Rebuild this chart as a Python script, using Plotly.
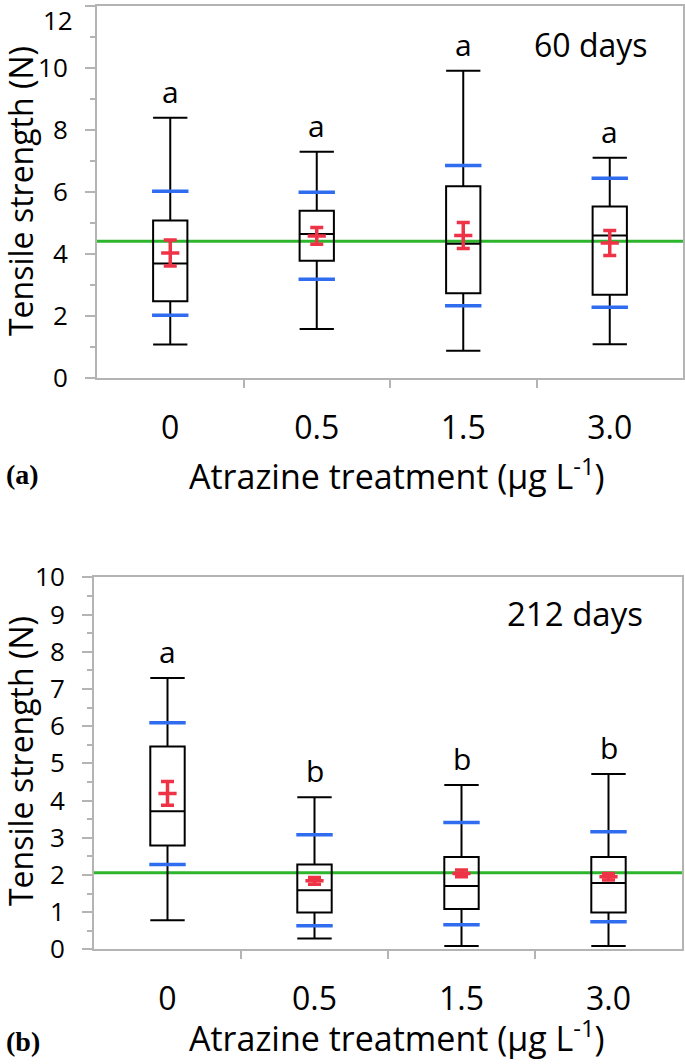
import plotly.graph_objects as go

# ---------------- data ----------------
treatments = ["0", "0.5", "1.5", "3.0"]
xpos = [0, 1, 2, 3]

# 60 days
d60_low = [1.09, 1.59, 0.89, 1.10]
d60_q1 = [2.48, 3.79, 2.74, 2.69]
d60_median = [3.70, 4.65, 4.34, 4.60]
d60_q3 = [5.09, 5.40, 6.19, 5.54]
d60_high = [8.40, 7.30, 9.91, 7.11]
d60_blue_low = [2.03, 3.19, 2.34, 2.29]
d60_blue_high = [6.03, 6.00, 6.86, 6.45]
d60_mean = [4.04, 4.59, 4.60, 4.36]
d60_err = [0.42, 0.27, 0.42, 0.40]
d60_letters = ["a", "a", "a", "a"]
d60_control = 4.42
d60_yticks = [0, 2, 4, 6, 8, 10, 12]

# 212 days
d212_low = [0.78, 0.29, 0.09, 0.09]
d212_q1 = [2.79, 0.99, 1.08, 0.99]
d212_median = [3.71, 1.59, 1.70, 1.78]
d212_q3 = [5.45, 2.28, 2.48, 2.48]
d212_high = [7.29, 4.09, 4.42, 4.71]
d212_blue_low = [2.28, 0.63, 0.66, 0.74]
d212_blue_high = [6.09, 3.08, 3.41, 3.16]
d212_mean = [4.19, 1.84, 2.04, 1.95]
d212_err = [0.32, 0.09, 0.09, 0.09]
d212_letters = ["a", "b", "b", "b"]
d212_control = 2.06

RED = "#ee3347"
BLUE = "#2f6cf0"
GREEN = "#2db52d"
GRAY = "#b4b4b4"
FONT = "Open Sans"

fig = go.Figure()


def add_panel(xa, ya, low, q1, med, q3, high, blo, bhi, mean, err):
    fig.add_trace(go.Box(
        x=xpos, q1=q1, median=med, q3=q3, lowerfence=low, upperfence=high,
        width=0.234, whiskerwidth=1, boxpoints=False,
        line=dict(color="black", width=2), fillcolor="rgba(0,0,0,0)",
        xaxis=xa, yaxis=ya, showlegend=False, hoverinfo="skip"))
    fig.add_trace(go.Scatter(
        x=xpos + xpos, y=blo + bhi, mode="markers",
        marker=dict(symbol="line-ew", size=26, line=dict(color=BLUE, width=3.5)),
        xaxis=xa, yaxis=ya, showlegend=False, hoverinfo="skip"))
    fig.add_trace(go.Scatter(
        x=xpos, y=mean, mode="markers",
        marker=dict(symbol="line-ew", size=13, line=dict(color=RED, width=3.5)),
        error_y=dict(type="data", array=err, visible=True, color=RED,
                     thickness=3.5, width=6.5),
        xaxis=xa, yaxis=ya, showlegend=False, hoverinfo="skip"))


add_panel("x", "y", d60_low, d60_q1, d60_median, d60_q3, d60_high,
          d60_blue_low, d60_blue_high, d60_mean, d60_err)
add_panel("x2", "y2", d212_low, d212_q1, d212_median, d212_q3, d212_high,
          d212_blue_low, d212_blue_high, d212_mean, d212_err)

W, H = 685, 1064

xcommon = dict(range=[-0.5, 3.5], tickvals=xpos, ticktext=treatments, ticks="",
               showline=True, linecolor=GRAY, linewidth=2, mirror=True,
               showgrid=False, zeroline=False, automargin=False,
               tickfont=dict(family=FONT, size=32, color="black"),
               ticklabelstandoff=20, ticklabeloverflow="allow",
               minor=dict(tickvals=[0.5, 1.5, 2.5], ticks="outside", ticklen=8,
                          tickwidth=2, tickcolor=GRAY))
ycommon = dict(showline=True, linecolor=GRAY, linewidth=2, mirror=True,
               showgrid=False, zeroline=False, ticks="outside", ticklen=10,
               tickwidth=2, tickcolor=GRAY, automargin=False,
               tickfont=dict(family=FONT, size=26, color="black"),
               ticklabelstandoff=12, ticklabeloverflow="allow")

# top label of panel (a) sits at the page edge; it is drawn as an annotation
top_labels = [str(v) for v in d60_yticks[:-1]] + [""]

fig.update_layout(
    width=W, height=H, margin=dict(l=0, r=0, t=0, b=0, autoexpand=False),
    paper_bgcolor="white", plot_bgcolor="white", showlegend=False,
    xaxis=dict(domain=[97 / W, 683 / W], anchor="y", **xcommon),
    yaxis=dict(domain=[(H - 378.3) / H, (H - 6) / H], anchor="x",
               range=[0, 12], tickvals=d60_yticks, ticktext=top_labels,
               minor=dict(dtick=1, ticks="outside", ticklen=5, tickwidth=2,
                          tickcolor=GRAY),
               **ycommon),
    xaxis2=dict(domain=[94 / W, 682 / W], anchor="y2", **xcommon),
    yaxis2=dict(domain=[(H - 949.3) / H, (H - 577.3) / H], anchor="x2",
                range=[0, 10], dtick=1,
                minor=dict(dtick=0.5, ticks="outside", ticklen=5, tickwidth=2,
                           tickcolor=GRAY),
                **ycommon),
)

# control reference lines
for ya, val in (("y", d60_control), ("y2", d212_control)):
    xa = "x" if ya == "y" else "x2"
    fig.add_shape(type="line", xref=f"{xa} domain", x0=0, x1=1, yref=ya,
                  y0=val, y1=val, line=dict(color=GREEN, width=3), layer="below")

anns = []
for xa, ya, letters, high in (("x", "y", d60_letters, d60_high),
                              ("x2", "y2", d212_letters, d212_high)):
    for xi, lt, h in zip(xpos, letters, high):
        anns.append(dict(x=xi, y=h, xref=xa, yref=ya, text=lt, showarrow=False,
                         xanchor="center", yanchor="bottom", yshift=4,
                         font=dict(family=FONT, size=30, color="black")))


def pann(px, py, text, size, family=FONT, angle=0, xanchor="center",
         yanchor="middle"):
    return dict(x=px / W, y=1 - py / H, xref="paper", yref="paper", text=text,
                showarrow=False, xanchor=xanchor, yanchor=yanchor,
                textangle=angle, font=dict(family=family, size=size, color="black"))


anns += [
    pann(75, 0, str(d60_yticks[-1]), 26, xanchor="right", yanchor="top"),
    pann(591, 45, "60 days", 32),
    pann(575, 613, "212 days", 33),
    pann(20, 191, "Tensile strength (N)", 32, angle=-90),
    pann(20, 761, "Tensile strength (N)", 32, angle=-90),
    pann(397, 474, "Atrazine treatment (µg L<sup>-1</sup>)", 34),
    pann(397, 1063, "Atrazine treatment (µg L<sup>-1</sup>)", 34, yanchor="bottom"),
    pann(22, 475, "<b>(a)</b>", 28, family="Liberation Serif"),
    pann(23, 1041, "<b>(b)</b>", 28, family="Liberation Serif"),
]
fig.update_layout(annotations=anns)

fig.write_html("out.html", config={"displayModeBar": False},
               post_script="document.body.style.margin='0';document.body.style.padding='0';")
